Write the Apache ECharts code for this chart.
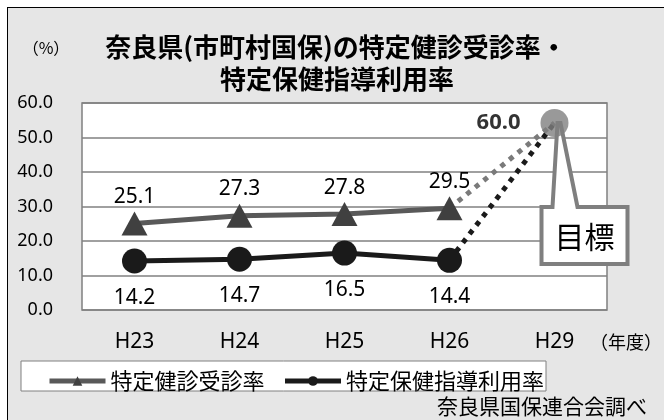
<!DOCTYPE html>
<html><head><meta charset="utf-8">
<script src="https://cdn.jsdelivr.net/npm/echarts@6/dist/echarts.min.js"></script>
<style>
html,body{margin:0;padding:0;background:#fff;}
#frame{position:absolute;left:7px;top:7px;width:680px;height:430px;background:#e6e6e6;border-top:1.5px solid #000;border-left:1.5px solid #000;}
#c{position:absolute;left:0;top:0;width:664px;height:420px;}
</style></head>
<body><div id="frame"></div><div id="c"></div>
<script>
const categories = ['H23','H24','H25','H26','H29'];
const kenshinRate = [25.1, 27.3, 27.8, 29.5, null];
const hokenRate = [14.2, 14.7, 16.5, 14.4, null];
const targetLabel = '60.0';
const targetDrawn = 54.2;
const yTicks = [0, 10, 20, 30, 40, 50, 60];
const seriesNames = ['特定健診受診率', '特定保健指導利用率'];

const F = "'Noto Sans','Noto Sans CJK JP',sans-serif";
const FJ = "'Noto Sans CJK JP','Noto Sans',sans-serif";

const lastIdx = 3, tIdx = 4;
const kDot = categories.map((c,i)=> i===lastIdx ? kenshinRate[lastIdx] : (i===tIdx ? targetDrawn : null));
const hDot = categories.map((c,i)=> i===lastIdx ? hokenRate[lastIdx] : (i===tIdx ? targetDrawn : null));
const tData = categories.map((c,i)=> i===tIdx ? targetDrawn : null);

const chart = echarts.init(document.getElementById('c'));
chart.setOption({
  backgroundColor: 'transparent',
  animation: false,
  grid: {left: 82, right: 57, top: 103, bottom: 110, show: true, backgroundColor: '#fff', borderColor: '#808080', borderWidth: 1.5},
  xAxis: {type: 'category', data: categories, boundaryGap: true,
    axisLine: {show: false}, axisTick: {show: false},
    axisLabel: {fontFamily: F, fontSize: 21, color: '#000', margin: 22}},
  yAxis: {type: 'value', min: yTicks[0], max: yTicks[yTicks.length-1], interval: 10,
    axisLine: {show: false}, axisTick: {show: false},
    splitLine: {lineStyle: {color: '#808080', width: 1.5}},
    axisLabel: {fontFamily: F, fontSize: 18, color: '#000', margin: 29, formatter: v => v.toFixed(1)}},
  legend: {data: seriesNames, left: 42, top: 365, itemGap: 18, itemWidth: 56, itemHeight: 12,
    lineStyle: {width: 5},
    textStyle: {fontFamily: FJ, fontSize: 22, color: '#000'}},
  series: [
    {name: 'kdot', type: 'line', data: kDot, symbol: 'none', z: 2, connectNulls: false,
      lineStyle: {color: '#7a7a7a', width: 5, type: [5, 6], cap: 'butt'}},
    {name: 'hdot', type: 'line', data: hDot, symbol: 'none', z: 2,
      lineStyle: {color: '#1a1a1a', width: 5, type: [5, 6], cap: 'butt'}},
    {name: seriesNames[0], type: 'line', data: kenshinRate, z: 3,
      symbol: 'triangle', symbolSize: [26, 24], itemStyle: {color: '#404040'},
      lineStyle: {color: '#595959', width: 5},
      label: {show: true, position: 'top', distance: 4, fontFamily: F, fontSize: 21, color: '#000', formatter: p => p.value.toFixed(1)}},
    {name: seriesNames[1], type: 'line', data: hokenRate, z: 3,
      symbol: 'circle', symbolSize: 25, itemStyle: {color: '#1a1a1a'},
      lineStyle: {color: '#1a1a1a', width: 5},
      label: {show: true, position: 'bottom', distance: 14, fontFamily: F, fontSize: 21, color: '#000', formatter: p => p.value.toFixed(1)}},
    {name: 'target', type: 'scatter', data: tData, z: 10, symbol: 'circle', symbolSize: 28,
      itemStyle: {color: '#808080'},
      label: {show: true, position: 'left', distance: 20, fontFamily: F, fontSize: 22, fontWeight: 'bold', color: '#000', formatter: () => targetLabel}}
  ]
});

const p = chart.convertToPixel({seriesIndex: 4}, [tIdx, targetDrawn]);
const bx = p[0] - 13, by = p[1] + 84, bw = 86, bh = 57;
chart.setOption({graphic: [
  {type: 'text', x: 46, y: 48, style: {text: '（%）', font: '16px ' + FJ, fill: '#000', align: 'center', verticalAlign: 'middle'}},
  {type: 'text', x: 336, y: 47, style: {text: '奈良県(市町村国保)の特定健診受診率・', font: 'bold 26px ' + FJ, fill: '#000', align: 'center', verticalAlign: 'middle'}},
  {type: 'text', x: 337, y: 79, style: {text: '特定保健指導利用率', font: 'bold 26px ' + FJ, fill: '#000', align: 'center', verticalAlign: 'middle'}},
  {type: 'text', x: 626, y: 342, style: {text: '（年度）', font: '18px ' + FJ, fill: '#000', align: 'center', verticalAlign: 'middle'}},
  {type: 'rect', shape: {x: 21, y: 361, width: 525, height: 30}, style: {fill: '#fff', stroke: '#808080', lineWidth: 1}, z: -1},
  {type: 'text', x: 647, y: 406, style: {text: '奈良県国保連合会調べ', font: '21px ' + FJ, fill: '#000', align: 'right', verticalAlign: 'middle'}},
  {type: 'polygon', z: 5, shape: {points: [
      [p[0] + 3, p[1]], [bx + 11, by], [bx, by], [bx, by + bh], [bx + bw, by + bh], [bx + bw, by], [bx + 36, by], [p[0] + 6, p[1]]
    ]}, style: {fill: '#fff', stroke: '#7f7f7f', lineWidth: 4, lineJoin: 'miter'}},
  {type: 'text', z: 6, x: bx + bw / 2, y: by + bh / 2 + 1, style: {text: '目標', font: '30px ' + FJ, fill: '#000', align: 'center', verticalAlign: 'middle'}}
]});
</script></body></html>
